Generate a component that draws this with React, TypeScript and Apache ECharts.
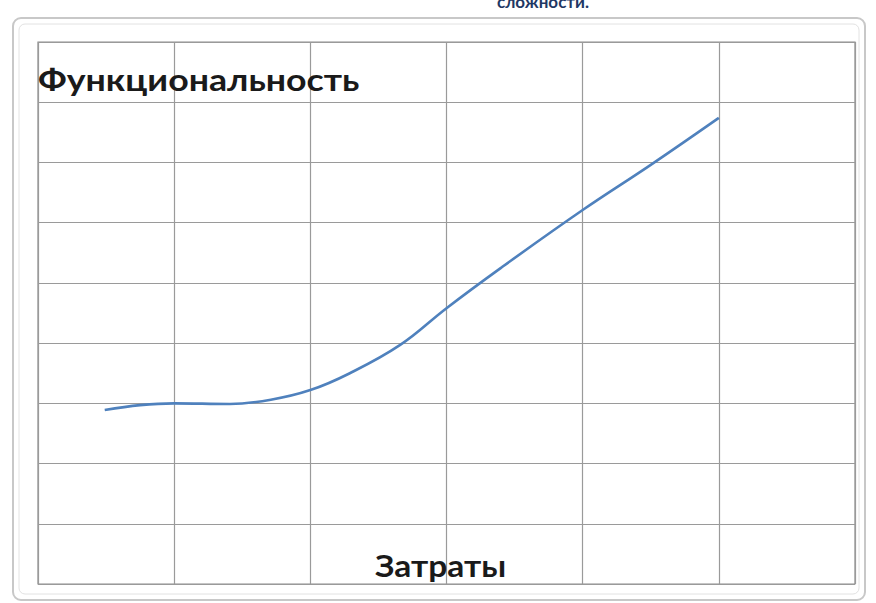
import React, { useEffect, useRef } from "react";
import * as echarts from "echarts";

const xValues = [0.49, 0.75, 1.0, 1.41, 1.71, 2.0, 2.29, 2.66, 3.0, 3.4, 4.0, 4.5, 5.0];
const yValues = [2.89, 2.97, 3.0, 2.99, 3.06, 3.22, 3.5, 3.97, 4.58, 5.25, 6.21, 6.96, 7.74];
const yTitle = "Функциональность";
const xTitle = "Затраты";
const topFragment = "сложности.";

export default function App() {
  const ref = useRef<HTMLDivElement>(null);
  useEffect(() => {
    if (!ref.current) return;
    const chart = echarts.init(ref.current, null, { renderer: "svg" });
    const data = xValues.map((x, i) => [x, yValues[i]]);
    const gridLine = { show: true, lineStyle: { color: "#9a9a9a", width: 1.2 } };
    const titleFont = "bold 30px Lato, 'Noto Sans', sans-serif";
    chart.setOption({
      animation: false,
      backgroundColor: "#ffffff",
      grid: {
        left: 38,
        right: 21,
        top: 42,
        bottom: 19,
        show: true,
        borderColor: "#8c8c8c",
        borderWidth: 1.2,
      },
      xAxis: {
        type: "value",
        min: 0,
        max: 6,
        interval: 1,
        axisLine: { show: false },
        axisTick: { show: false },
        axisLabel: { show: false },
        splitLine: gridLine,
      },
      yAxis: {
        type: "value",
        min: 0,
        max: 9,
        interval: 1,
        axisLine: { show: false },
        axisTick: { show: false },
        axisLabel: { show: false },
        splitLine: gridLine,
      },
      graphic: [
        {
          type: "rect",
          shape: { x: 13, y: 18, width: 852, height: 582, r: 8 },
          style: { fill: "none", stroke: "#c8c8c8", lineWidth: 2 },
          z: -1,
        },
        {
          type: "rect",
          shape: { x: 19, y: 24, width: 840, height: 570, r: 6 },
          style: { fill: "none", stroke: "#e2e2e2", lineWidth: 1 },
          z: -1,
        },
        {
          type: "text",
          x: 497,
          y: -7,
          style: {
            text: topFragment,
            font: "bold 17px Lato, 'Noto Sans', sans-serif",
            fill: "#1f3864",
            verticalAlign: "top",
          },
        },
        {
          type: "text",
          x: 38,
          y: 64,
          scaleX: 1.19,
          style: {
            text: yTitle,
            font: titleFont,
            fill: "#1a1a1a",
            verticalAlign: "top",
          },
          z: 10,
        },
        {
          type: "text",
          x: 375,
          y: 551,
          scaleX: 1.12,
          style: {
            text: xTitle,
            font: titleFont,
            fill: "#1a1a1a",
            verticalAlign: "top",
          },
          z: 10,
        },
      ],
      series: [
        {
          type: "line",
          data,
          smooth: 0.4,
          symbol: "none",
          lineStyle: { color: "#4f81bd", width: 2.6 },
        },
      ],
    });
    return () => chart.dispose();
  }, []);
  return (
    <div
      ref={ref}
      style={{ position: "fixed", left: 0, top: 0, width: 876, height: 603 }}
    />
  );
}
